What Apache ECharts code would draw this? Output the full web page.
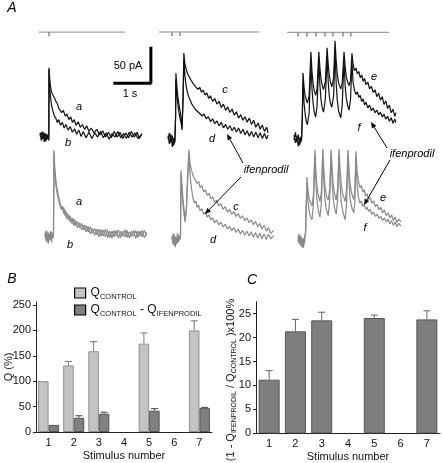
<!DOCTYPE html>
<html><head><meta charset="utf-8">
<script src="https://cdn.jsdelivr.net/npm/echarts@6/dist/echarts.min.js"></script>
<style>html,body{margin:0;padding:0;background:#fff}#c{width:442px;height:463px}</style>
</head><body><div id="c"></div>
<script>
// ---------- Panel A data: time (s), current (pA) ----------
var traceA = [[0,3],[0.04,-8],[0.08,5],[0.12,-10],[0.16,2],[0.2,-6],[0.23,-3],[0.245,-8],[0.25,96],[0.27,80],[0.29,70],[0.32,62],[0.35,58],[0.38,60],[0.41,52],[0.44,48],[0.48,45],[0.52,38],[0.56,40],[0.6,32],[0.65,35],[0.7,27],[0.75,30],[0.8,22],[0.85,26],[0.9,18],[0.95,22],[1.0,14],[1.06,19],[1.12,11],[1.18,15],[1.24,8],[1.3,13],[1.36,5],[1.42,10],[1.5,3],[1.58,8],[1.66,0],[1.74,6],[1.82,-3],[1.9,4],[1.98,-4],[2.06,5],[2.14,-3],[2.22,4],[2.3,-5],[2.38,3],[2.46,-4],[2.54,5],[2.62,-3],[2.7,4],[2.76,-5],[2.83,2]];
var traceB = [[0,-2],[0.04,4],[0.08,-6],[0.12,3],[0.16,-9],[0.2,1],[0.23,-5],[0.245,-2],[0.25,94],[0.27,68],[0.3,50],[0.33,40],[0.36,34],[0.4,27],[0.44,24],[0.48,18],[0.52,22],[0.57,14],[0.62,18],[0.67,10],[0.72,15],[0.78,7],[0.84,12],[0.9,4],[0.96,9],[1.02,1],[1.08,7],[1.14,-2],[1.2,5],[1.28,-4],[1.36,4],[1.44,-5],[1.52,3],[1.6,-3],[1.68,5],[1.76,-4],[1.84,3],[1.92,-6],[2.0,2],[2.08,-3],[2.16,5],[2.24,-4],[2.32,2],[2.4,-5],[2.48,4],[2.56,-3],[2.64,3],[2.72,-5],[2.83,1]];
var traceC = [[0,2],[0.04,-10],[0.08,4],[0.12,-14],[0.16,-2],[0.19,-8],[0.21,30],[0.22,91],[0.25,70],[0.28,55],[0.31,45],[0.34,36],[0.37,25],[0.39,14],[0.42,60],[0.44,120],[0.47,104],[0.5,98],[0.53,92],[0.57,88],[0.61,84],[0.65,80],[0.69,77],[0.73,74],[0.78,76],[0.83,68],[0.88,71],[0.93,64],[0.98,67],[1.03,60],[1.08,63],[1.13,55],[1.18,59],[1.24,51],[1.3,55],[1.36,47],[1.42,51],[1.48,42],[1.54,47],[1.6,38],[1.66,43],[1.72,35],[1.78,40],[1.84,31],[1.9,36],[1.96,27],[2.02,32],[2.08,24],[2.14,29],[2.2,21],[2.26,27],[2.32,18],[2.38,24],[2.44,14],[2.5,20],[2.56,11],[2.62,17],[2.68,8],[2.74,14],[2.78,6]];
var traceD = [[0,-3],[0.04,6],[0.08,-8],[0.12,2],[0.16,-12],[0.19,-4],[0.21,25],[0.22,82],[0.25,58],[0.28,44],[0.31,33],[0.34,26],[0.37,18],[0.39,10],[0.42,55],[0.44,110],[0.47,88],[0.5,74],[0.53,66],[0.57,58],[0.61,54],[0.65,48],[0.7,44],[0.75,40],[0.8,42],[0.85,35],[0.9,37],[0.95,30],[1.0,33],[1.06,26],[1.12,29],[1.18,22],[1.24,26],[1.3,19],[1.36,23],[1.42,16],[1.48,21],[1.54,13],[1.6,18],[1.66,11],[1.72,16],[1.78,9],[1.84,14],[1.9,7],[1.96,13],[2.02,5],[2.08,11],[2.14,3],[2.2,9],[2.26,1],[2.32,8],[2.38,0],[2.44,7],[2.5,-1],[2.56,6],[2.62,-2],[2.68,5],[2.74,-3],[2.78,3]];
var traceE = [[0,-3],[0.04,8],[0.08,-6],[0.12,5],[0.16,-10],[0.19,2],[0.21,-4],[0.23,30],[0.25,93],[0.28,72],[0.31,60],[0.34,55],[0.37,50],[0.42,60],[0.47,123],[0.5,95],[0.53,78],[0.56,68],[0.6,61],[0.64,70],[0.69,123],[0.72,100],[0.75,85],[0.78,76],[0.82,69],[0.87,80],[0.92,129],[0.95,105],[0.98,90],[1.01,80],[1.05,73],[1.1,85],[1.14,139],[1.17,112],[1.2,92],[1.24,78],[1.3,70],[1.34,80],[1.39,123],[1.42,102],[1.45,88],[1.49,80],[1.53,75],[1.57,82],[1.61,121],[1.64,106],[1.68,96],[1.72,100],[1.76,92],[1.8,95],[1.84,86],[1.88,90],[1.92,81],[1.96,85],[2.0,76],[2.05,80],[2.1,70],[2.15,74],[2.2,65],[2.25,69],[2.3,59],[2.35,64],[2.4,54],[2.45,59],[2.5,48],[2.55,53],[2.6,42],[2.65,47],[2.7,36],[2.75,41],[2.8,31],[2.83,36]];
var traceF = [[0,4],[0.04,-7],[0.08,3],[0.12,-12],[0.16,0],[0.19,-6],[0.21,2],[0.23,25],[0.25,80],[0.28,50],[0.31,34],[0.34,24],[0.37,19],[0.42,35],[0.47,110],[0.5,70],[0.53,50],[0.56,38],[0.6,30],[0.64,45],[0.69,112],[0.72,75],[0.75,55],[0.78,44],[0.82,37],[0.87,55],[0.92,118],[0.95,80],[0.98,60],[1.01,50],[1.05,44],[1.1,60],[1.14,126],[1.17,80],[1.2,55],[1.24,38],[1.3,29],[1.34,48],[1.39,112],[1.42,75],[1.45,58],[1.49,46],[1.53,40],[1.57,55],[1.61,110],[1.64,80],[1.68,68],[1.72,62],[1.76,66],[1.8,58],[1.84,61],[1.88,52],[1.92,56],[1.96,47],[2.0,51],[2.05,43],[2.1,47],[2.15,39],[2.2,43],[2.25,36],[2.3,40],[2.35,33],[2.4,37],[2.45,30],[2.5,34],[2.55,27],[2.6,31],[2.65,24],[2.7,29],[2.75,21],[2.8,27],[2.83,22]];
// scaled (lower row) traces
var scaledA = [[0,2],[0.03,-10],[0.06,4],[0.09,-14],[0.12,0],[0.15,-8],[0.18,3],[0.21,-6],[0.235,-2],[0.25,120],[0.27,95],[0.3,78],[0.33,66],[0.36,58],[0.4,48],[0.44,40],[0.48,34],[0.52,38],[0.56,26],[0.6,31],[0.65,20],[0.7,26],[0.75,15],[0.8,22],[0.85,12],[0.9,18],[0.96,9],[1.02,15],[1.08,6],[1.14,12],[1.2,3],[1.26,10],[1.32,1],[1.38,8],[1.44,-1],[1.5,7],[1.56,-3],[1.62,6],[1.68,-4],[1.74,5],[1.8,-5],[1.86,4],[1.92,-4],[1.98,5],[2.04,-6],[2.1,4],[2.16,-3],[2.22,6],[2.28,-5],[2.34,3],[2.4,-4],[2.46,5],[2.52,-6],[2.58,4],[2.64,-3],[2.7,5],[2.76,-5],[2.83,2]];
var scaledB = [[0,-4],[0.03,5],[0.06,-12],[0.09,2],[0.12,-9],[0.15,4],[0.18,-12],[0.21,1],[0.235,-5],[0.25,116],[0.27,88],[0.3,70],[0.33,60],[0.36,52],[0.4,44],[0.44,36],[0.48,40],[0.52,29],[0.56,34],[0.6,22],[0.65,28],[0.7,17],[0.75,23],[0.8,12],[0.85,19],[0.9,9],[0.96,16],[1.02,6],[1.08,13],[1.14,3],[1.2,11],[1.26,0],[1.32,8],[1.38,-2],[1.44,7],[1.5,-4],[1.56,6],[1.62,-3],[1.68,7],[1.74,-5],[1.8,4],[1.86,-6],[1.92,5],[1.98,-3],[2.04,6],[2.1,-5],[2.16,4],[2.22,-4],[2.28,5],[2.34,-6],[2.4,4],[2.46,-3],[2.52,5],[2.58,-5],[2.64,4],[2.7,-4],[2.76,5],[2.83,-2]];
var scaledC = [[0,0],[0.03,-12],[0.06,3],[0.09,-16],[0.12,-2],[0.15,-10],[0.18,2],[0.21,-6],[0.235,-1],[0.25,94],[0.28,70],[0.31,50],[0.34,34],[0.36,23],[0.4,40],[0.43,80],[0.47,123],[0.5,104],[0.54,94],[0.58,87],[0.62,82],[0.66,84],[0.7,75],[0.74,78],[0.78,69],[0.83,72],[0.88,63],[0.93,66],[0.98,58],[1.03,61],[1.08,53],[1.13,56],[1.18,48],[1.24,51],[1.3,43],[1.36,46],[1.42,38],[1.48,42],[1.54,34],[1.6,38],[1.66,31],[1.72,35],[1.78,28],[1.84,32],[1.9,25],[1.96,29],[2.02,22],[2.08,26],[2.14,19],[2.2,23],[2.26,16],[2.32,21],[2.38,13],[2.44,18],[2.5,10],[2.56,15],[2.62,7],[2.68,12],[2.74,4],[2.83,8]];
var scaledD = [[0,-6],[0.03,3],[0.06,-14],[0.09,-1],[0.12,-12],[0.15,4],[0.18,-9],[0.21,0],[0.235,-4],[0.25,88],[0.28,60],[0.31,42],[0.34,30],[0.36,20],[0.4,36],[0.43,75],[0.47,118],[0.5,88],[0.54,68],[0.58,55],[0.62,47],[0.66,50],[0.7,41],[0.74,44],[0.78,36],[0.83,39],[0.88,31],[0.93,34],[0.98,27],[1.03,30],[1.08,23],[1.13,26],[1.18,19],[1.24,23],[1.3,16],[1.36,20],[1.42,13],[1.48,17],[1.54,10],[1.6,14],[1.66,8],[1.72,12],[1.78,5],[1.84,10],[1.9,3],[1.96,8],[2.02,1],[2.08,7],[2.14,0],[2.2,6],[2.26,-2],[2.32,5],[2.38,-3],[2.44,4],[2.5,-4],[2.56,3],[2.62,-5],[2.68,3],[2.74,-4],[2.83,1]];
var scaledE = [[0,-5],[0.03,6],[0.06,-10],[0.09,2],[0.12,-14],[0.15,0],[0.18,-8],[0.21,10],[0.25,87],[0.28,66],[0.31,56],[0.35,50],[0.39,46],[0.43,62],[0.47,126],[0.5,92],[0.53,72],[0.57,60],[0.61,52],[0.65,66],[0.69,127],[0.72,94],[0.75,74],[0.79,60],[0.84,54],[0.88,70],[0.92,126],[0.95,96],[0.98,76],[1.02,62],[1.06,54],[1.1,70],[1.14,127],[1.17,95],[1.2,76],[1.25,62],[1.31,52],[1.35,70],[1.39,126],[1.42,94],[1.45,76],[1.5,62],[1.55,55],[1.58,70],[1.61,124],[1.64,96],[1.68,80],[1.72,72],[1.76,75],[1.8,66],[1.84,69],[1.88,60],[1.92,63],[1.96,55],[2.0,58],[2.05,50],[2.1,53],[2.15,45],[2.2,48],[2.25,40],[2.3,44],[2.35,36],[2.4,40],[2.45,32],[2.5,36],[2.55,29],[2.6,33],[2.65,25],[2.7,30],[2.75,22],[2.8,27],[2.86,23]];
var scaledF = [[0,3],[0.03,-8],[0.06,4],[0.09,-12],[0.12,-1],[0.15,-14],[0.18,2],[0.21,6],[0.25,80],[0.28,52],[0.31,38],[0.35,30],[0.39,26],[0.43,50],[0.47,120],[0.5,76],[0.53,52],[0.57,38],[0.61,30],[0.65,50],[0.69,121],[0.72,78],[0.75,54],[0.79,40],[0.84,32],[0.88,54],[0.92,120],[0.95,78],[0.98,55],[1.02,42],[1.06,34],[1.1,55],[1.14,121],[1.17,76],[1.2,52],[1.25,36],[1.31,26],[1.35,50],[1.39,120],[1.42,76],[1.45,54],[1.5,42],[1.55,36],[1.58,52],[1.61,118],[1.64,76],[1.68,58],[1.72,50],[1.76,53],[1.8,45],[1.84,48],[1.88,41],[1.92,44],[1.96,38],[2.0,41],[2.05,34],[2.1,37],[2.15,31],[2.2,34],[2.25,28],[2.3,31],[2.35,25],[2.4,29],[2.45,23],[2.5,27],[2.55,20],[2.6,25],[2.65,18],[2.7,23],[2.75,16],[2.8,21],[2.86,17]];
// stimulus times (s) for each protocol and the span of the stimulus line
var stim1 = [0.25], stim2 = [0.11, 0.33], stim3 = [0.11, 0.36, 0.61, 0.86, 1.08, 1.36, 1.58];
var stimSpan1 = [-0.03, 2.36], stimSpan2 = [-0.25, 2.53], stimSpan3 = [-0.19, 2.64];
// scale bar: 1 s, 50 pA
var scaleT = 1, scaleI = 50, scaleCorner = [3.08, 74];

// ---------- Panels B and C ----------
var stimCats = ['1','2','3','4','5','6','7'];
var qControl = [100, 131, 159, null, 174, null, 200];
var qControlErr = [0, 8, 19, null, 21, null, 19];
var qDiff = [14, 28, 36, null, 42, null, 47];
var qDiffErr = [0, 4, 3, null, 4, null, 1.5];
var ratio = [11.2, 21.3, 23.6, null, 24.1, null, 23.8];
var ratioErr = [1.9, 2.5, 1.7, null, 0.6, null, 1.8];
var qTicks = [0, 50, 100, 150, 200, 250];
var rTicks = [0, 5, 10, 15, 20, 25];

var FONT = '"Liberation Sans", Arial, Helvetica, sans-serif';
var PX_S = 36, PX_PA = 0.7;
function traceGrid(x0, base, xr, yr) {
  return {left: x0 + xr[0]*PX_S, top: base - yr[1]*PX_PA, width: (xr[1]-xr[0])*PX_S, height: (yr[1]-yr[0])*PX_PA, containLabel:false, outerBoundsMode:'none'};
}
var XR1 = [-0.1, 3.2], XR2 = [-0.3, 2.85], XR3 = [-0.25, 2.9], XRb = [-0.1, 2.95];
var YRt = [-25, 160], YRb = [-25, 135];
var grids = [
  traceGrid(40, 135, XR1, YRt), traceGrid(168, 137, XR2, YRt), traceGrid(294, 138, XR3, YRt),
  traceGrid(45, 234, XRb, YRb), traceGrid(172, 236, XRb, YRb), traceGrid(298, 238, XRb, YRb),
  {left:36, top:302, width:176, height:130, containLabel:false, outerBoundsMode:'none'},
  {left:256, top:301.7, width:184, height:131.6, containLabel:false, outerBoundsMode:'none'}
];
var xr = [XR1, XR2, XR3, XRb, XRb, XRb], yr = [YRt, YRt, YRt, YRb, YRb, YRb];
var xAxes = [], yAxes = [];
for (var i = 0; i < 6; i++) {
  xAxes.push({type:'value', gridIndex:i, min:xr[i][0], max:xr[i][1], show:false});
  yAxes.push({type:'value', gridIndex:i, min:yr[i][0], max:yr[i][1], show:false});
}
var axisCol = '#222';
function catAxis(g) {
  return {type:'category', gridIndex:g, data:stimCats,
    axisLine:{lineStyle:{color:axisCol, width:1}}, axisTick:{show:false},
    axisLabel:{fontSize:11, color:'#111', margin:5, fontFamily:FONT},
    name:'Stimulus number', nameLocation:'middle', nameGap:18, nameMoveOverlap:false,
    nameTextStyle:{fontSize:11, color:'#111', fontFamily:FONT}};
}
xAxes.push(catAxis(6)); xAxes.push(catAxis(7));
yAxes.push({type:'value', gridIndex:6, min:0, max:256, splitLine:{show:false},
  axisLine:{show:true, lineStyle:{color:axisCol}},
  axisTick:{show:true, length:3, customValues:qTicks, lineStyle:{color:axisCol}},
  axisLabel:{customValues:qTicks, fontSize:11, color:'#111', margin:5, fontFamily:FONT},
  name:'Q (%)', nameLocation:'middle', nameGap:22, nameMoveOverlap:false,
  nameTextStyle:{fontSize:11, color:'#111', fontFamily:FONT}});
yAxes.push({type:'value', gridIndex:7, min:0, max:27.5, splitLine:{show:false},
  axisLine:{show:true, lineStyle:{color:axisCol}},
  axisTick:{show:true, length:3, customValues:rTicks, lineStyle:{color:axisCol}},
  axisLabel:{customValues:rTicks, fontSize:11, color:'#111', margin:5, fontFamily:FONT}});

function traceSeries(g, data, color) {
  return {type:'line', xAxisIndex:g, yAxisIndex:g, data:data, showSymbol:false, symbol:'none',
    lineStyle:{width:1.2, color:color}, silent:true, z:2};
}
function stimSeries(g, times, span, level) {
  var d = [[span[0], level]];
  times.forEach(function(t){ d.push([t, level]); d.push([t, level-6]); d.push([t, level]); });
  d.push([span[1], level]);
  return {type:'line', xAxisIndex:g, yAxisIndex:g, data:d, showSymbol:false, symbol:'none',
    lineStyle:{width:1, color:'#888'}, silent:true};
}
var topCol = '#111', lowCol = '#8a8a8a';
var series = [
  stimSeries(0, stim1, stimSpan1, 147), stimSeries(1, stim2, stimSpan2, 150), stimSeries(2, stim3, stimSpan3, 151),
  traceSeries(0, traceA, topCol), traceSeries(0, traceB, topCol),
  traceSeries(1, traceC, topCol), traceSeries(1, traceD, topCol),
  traceSeries(2, traceE, topCol), traceSeries(2, traceF, topCol),
  traceSeries(3, scaledA, lowCol), traceSeries(3, scaledB, lowCol),
  traceSeries(4, scaledC, lowCol), traceSeries(4, scaledD, lowCol),
  traceSeries(5, scaledE, lowCol), traceSeries(5, scaledF, lowCol),
  {type:'line', xAxisIndex:0, yAxisIndex:0, showSymbol:false, symbol:'none', silent:true,
   data:[[scaleCorner[0]-scaleT, scaleCorner[1]], scaleCorner, [scaleCorner[0], scaleCorner[1]+scaleI]],
   lineStyle:{width:3, color:'#000', cap:'square'}},
  {type:'bar', name:'ctrl', xAxisIndex:6, yAxisIndex:6, data:qControl, barWidth:10.5, barGap:'0%',
   itemStyle:{color:'#c4c4c4', borderColor:'#8e8e8e', borderWidth:1}},
  {type:'bar', name:'diff', xAxisIndex:6, yAxisIndex:6, data:qDiff, barWidth:10.5, barGap:'0%',
   itemStyle:{color:'#808080', borderColor:'#555', borderWidth:1}},
  {type:'bar', xAxisIndex:7, yAxisIndex:7, data:ratio, barWidth:21,
   itemStyle:{color:'#7e7e7e', borderColor:'#555', borderWidth:1}}
];
function errSeries(g, vals, errs, offset, color) {
  var d = [];
  vals.forEach(function(v, i){ if (v != null && errs[i]) d.push([i, v, v + errs[i]]); });
  return {type:'custom', xAxisIndex:g, yAxisIndex:g, data:d, encode:{x:0, y:[1,2]}, silent:true, z:3,
    renderItem:function(params, api){
      var p0 = api.coord([api.value(0), api.value(1)]);
      var p1 = api.coord([api.value(0), api.value(2)]);
      var cx = p0[0] + offset;
      var st = {stroke:color, lineWidth:1};
      return {type:'group', children:[
        {type:'line', shape:{x1:cx, y1:p0[1], x2:cx, y2:p1[1]}, style:st},
        {type:'line', shape:{x1:cx-3.5, y1:p1[1], x2:cx+3.5, y2:p1[1]}, style:st}]};
    }};
}
series.push(errSeries(6, qControl, qControlErr, -5.25, '#777'));
series.push(errSeries(6, qDiff, qDiffErr, 5.25, '#444'));
series.push(errSeries(7, ratio, ratioErr, 0, '#666'));

// ---------- annotations ----------
function txt(s, x, y, size, italic, extra) {
  var st = {text:s, x:x, y:y, fill:'#000', fontSize:size, fontFamily:FONT, fontStyle:italic?'italic':'normal',
    align:'center', verticalAlign:'middle', textAlign:'center', textVerticalAlign:'middle'};
  if (extra) for (var k in extra) st[k] = extra[k];
  return {type:'text', silent:true, style:st, z:10};
}
function arrow(x1, y1, x2, y2) {
  var dx = x2-x1, dy = y2-y1, L = Math.sqrt(dx*dx+dy*dy); dx/=L; dy/=L;
  var bx = x2 - dx*6, by = y2 - dy*6;
  return [{type:'line', silent:true, shape:{x1:x1, y1:y1, x2:bx, y2:by}, style:{stroke:'#000', lineWidth:1}, z:10},
    {type:'polygon', silent:true, shape:{points:[[x2,y2],[bx-dy*2.5, by+dx*2.5],[bx+dy*2.5, by-dx*2.5]]}, style:{fill:'#000'}, z:10}];
}
var graphic = [
  txt('A', 12, 8, 14, true), txt('B', 12, 279, 14, true), txt('C', 252, 280, 14, true),
  txt('50 pA', 128, 66, 11, false), txt('1 s', 130, 94, 11, false),
  txt('a', 79, 107, 11, true), txt('b', 68, 143, 11, true),
  txt('c', 225, 90, 11, true), txt('d', 212, 139, 11, true),
  txt('e', 374, 77, 11, true), txt('f', 359, 128, 11, true),
  txt('a', 79, 202, 11, true), txt('b', 70, 245, 11, true),
  txt('c', 236, 207, 11, true), txt('d', 213, 240, 11, true),
  txt('e', 383, 198, 11, true), txt('f', 365, 228, 11, true),
  txt('ifenprodil', 266, 170, 11, true), txt('ifenprodil', 412, 154, 11, true),
  {type:'text', silent:true, rotation:Math.PI/2, x:231, y:380, z:10,
   style:{text:'{n|(1 - Q}{s|IFENPRODIL}{n| / Q}{s|CONTROL}{n| )x100%}', fill:'#111',
     align:'center', verticalAlign:'middle', textAlign:'center', textVerticalAlign:'middle',
     rich:{n:{fontSize:11, lineHeight:14, fontFamily:FONT, fill:'#111'}, s:{fontSize:7, lineHeight:8, verticalAlign:'bottom', fontFamily:FONT, fill:'#111'}}}}
];
graphic = graphic.concat(arrow(243, 163, 227, 134), arrow(241, 177, 205, 214), arrow(387, 148, 371, 122), arrow(390, 160, 364, 205));

var chart = echarts.init(document.getElementById('c'), null, {renderer:'canvas'});
chart.setOption({
  animation:false, backgroundColor:'#fff',
  textStyle:{fontFamily:FONT},
  grid:grids, xAxis:xAxes, yAxis:yAxes, series:series, graphic:graphic,
  legend:{show:true, orient:'vertical', left:69, top:282, itemWidth:11, itemHeight:10, itemGap:3,
    data:['ctrl','diff'], icon:'rect', selectedMode:false,
    itemStyle:{borderColor:'#000', borderWidth:1.2},
    formatter:function(n){ return n === 'ctrl' ? '{q|Q}{s|CONTROL}' : '{q|Q}{s|CONTROL}{q| - Q}{s|IFENPRODIL}'; },
    textStyle:{rich:{q:{fontSize:12, lineHeight:16, fontFamily:FONT, color:'#111'}, s:{fontSize:7.5, lineHeight:9, verticalAlign:'bottom', fontFamily:FONT, color:'#111'}}}}
});
</script></body></html>
